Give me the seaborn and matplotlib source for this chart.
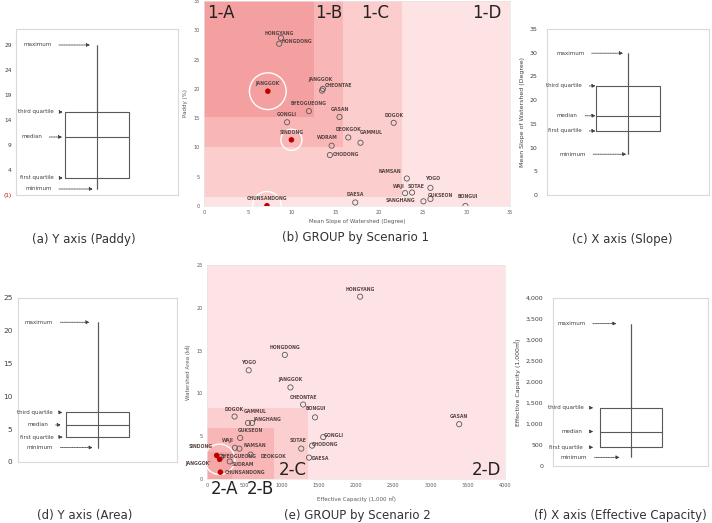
import numpy as np
import pandas as pd
import matplotlib
matplotlib.use("Agg")
import matplotlib.pyplot as plt
import seaborn as sns
from matplotlib.patches import Rectangle

# Box plot summaries: minimum, first quartile, median, third quartile, maximum
box_labels = ["minimum", "first quartile", "median", "third quartile", "maximum"]
paddy_stats = [0.2, 2.4, 10.6, 15.6, 29.0]
slope_stats = [8.6, 13.5, 16.7, 23.0, 29.9]
area_stats = [2.2, 3.8, 5.65, 7.55, 21.3]
capacity_stats = [205, 445, 820, 1385, 3390]

# Scenario 1: mean slope of watershed vs paddy
s1_names = ["HONGYANG", "HONGDONG", "JANGGOK'", "JANGGOK", "CHEONTAE", "BYEOGUEONG",
            "GASAN", "GONGLI", "DOGOK", "SINDONG", "DEOKGOK", "GAMMUL", "WORAM",
            "CHODONG", "NAMSAN", "YOGO", "WAJI", "SOTAE", "GUKSEON", "SANGHANG",
            "BONGUI", "DAESA", "CHUNSANDONG"]
s1_slope = [8.8, 8.6, 7.3, 13.6, 13.5, 12.0, 15.5, 9.5, 21.7, 10.0, 16.5, 17.9, 14.6,
            14.4, 23.2, 25.9, 23.0, 23.8, 25.9, 25.1, 29.9, 17.3, 7.2]
s1_paddy = [28.7, 27.7, 19.6, 20.0, 19.7, 16.2, 15.2, 14.3, 14.2, 11.3, 11.7, 10.8, 10.3,
            8.7, 4.7, 3.1, 2.2, 2.3, 1.2, 0.8, 0.0, 0.6, 0.05]
s1_selected = [False, False, True, False, False, False, False, False, False, True, False,
               False, False, False, False, False, False, False, False, False, False, False, True]

# Scenario 2: effective capacity vs watershed area
s2_names = ["HONGYANG", "HONGDONG", "YOGO", "JANGGOK", "CHEONTAE", "BONGUI", "GASAN",
            "DOGOK", "GAMMUL", "JANGHANG", "GUKSEON", "GONGLI", "CHODONG", "WAJI",
            "NAMSAN", "SOTAE", "DAESA", "BYEOGUEONG", "DEOKGOK", "SUDRAM", "SINDONG",
            "JANGGOK'", "CHUNSANDONG"]
s2_capacity = [2055, 1045, 560, 1120, 1290, 1450, 3385, 370, 550, 605, 445, 1560, 1410,
               375, 435, 1265, 1370, 190, 585, 305, 130, 170, 180]
s2_area = [21.3, 14.5, 12.7, 10.7, 8.7, 7.2, 6.4, 7.3, 6.55, 6.55, 4.8, 4.9, 3.9, 3.65,
           3.55, 3.55, 2.5, 2.6, 2.85, 2.05, 2.75, 2.3, 0.8]
s2_selected = [False] * 20 + [True, True, True]

# Scenario groups (nested regions)
s1_groups = ["1-D", "1-C", "1-B", "1-A"]
s1_group_xmax = [35, 22.7, 15.9, 12.6]
s1_group_ymin = [0, 1.6, 10.0, 15.2]
s2_groups = ["2-D", "2-C", "2-B", "2-A"]
s2_group_xmax = [4000, 1360, 900, 330]
s2_group_ymax = [25, 8.3, 5.9, 3.2]

df1 = pd.DataFrame({"name": s1_names, "x": s1_slope, "y": s1_paddy, "sel": s1_selected})
df2 = pd.DataFrame({"name": s2_names, "x": s2_capacity, "y": s2_area, "sel": s2_selected})

# label offsets in pixels (dx, dy up); default is straight above the point
off1 = {"HONGYANG": (-2, 4), "HONGDONG": (18, 2), "JANGGOK": (-2, 9), "CHEONTAE": (16, 5),
        "GAMMUL": (11, 10), "WORAM": (-4, 8), "CHODONG": (16, 1), "NAMSAN": (-17, 7),
        "YOGO": (2, 9), "WAJI": (-6, 7), "SOTAE": (4, 6), "GUKSEON": (10, 3),
        "SANGHANG": (-23, 1), "BONGUI": (2, 10)}
off2 = {"BONGUI": (1, 9), "GAMMUL": (7, 11), "JANGHANG": (15, 3), "GUKSEON": (10, 7),
        "GONGLI": (11, 2), "CHODONG": (13, 1), "WAJI": (-7, 7), "NAMSAN": (16, 3),
        "SOTAE": (-3, 8), "DAESA": (11, -1), "BYEOGUEONG": (17, 0), "DEOKGOK": (23, -2),
        "SUDRAM": (13, -3), "SINDONG": (-16, 9), "JANGGOK'": (-21, -4), "CHUNSANDONG": (25, 0)}
ring1 = {"JANGGOK'": 700, "SINDONG": 230, "CHUNSANDONG": 420}
ring2 = {"JANGGOK'": 480}

sns.set_style("white")
plt.rcParams["font.family"] = ["DejaVu Sans", "Noto Sans CJK KR"]

W, H = 712, 523
fig = plt.figure(figsize=(W / 100, H / 100), dpi=100)
GRAY = "#595959"


def add_ax(x0, y0, x1, y1):
    return fig.add_axes([x0 / W, 1 - y1 / H, (x1 - x0) / W, (y1 - y0) / H])


def box_panel(ax, stats, ylim, ticks, ticklabels, text_right, arrow_end, ylabel="",
              tick_size=4.5, tick_pad=7):
    sns.boxplot(y=stats, ax=ax, whis=(0, 100), width=0.4, fill=False, color=GRAY,
                linewidth=0.8, showcaps=False)
    ax.vlines(0, stats[0], stats[-1], color=GRAY, lw=0.8)
    ax.set_xlim(-0.5, 0.5)
    ax.set_ylim(*ylim)
    ax.set_yticks(ticks, ticklabels)
    ax.set_xticks([])
    ax.tick_params(axis="y", length=0, labelsize=tick_size, pad=tick_pad, colors="#404040")
    for sp in ax.spines.values():
        sp.set_color("#d9d9d9")
        sp.set_linewidth(0.8)
    ax.set_ylabel(ylabel, fontsize=4.5, color="#404040", labelpad=3)
    for lab, v, tx, xe in zip(box_labels, stats, text_right, arrow_end):
        ax.annotate(lab, xy=(xe, v), xytext=(tx, v), xycoords=("axes fraction", "data"),
                    ha="right", va="center", fontsize=4, color="#404040",
                    arrowprops=dict(arrowstyle="-|>", ls=(0, (1, 1)), lw=0.6, color="#404040",
                                    mutation_scale=5, shrinkA=3, shrinkB=0))


def scatter_panel(ax, df, offsets, rings, ring_df):
    sns.scatterplot(data=df[~df.sel], x="x", y="y", ax=ax, s=14, facecolor="none",
                    edgecolor=GRAY, linewidth=0.6, zorder=4)
    sns.scatterplot(data=df[df.sel], x="x", y="y", ax=ax, s=16, color="#c00000",
                    edgecolor="none", zorder=5)
    rr = ring_df[ring_df.name.isin(list(rings))]
    ax.scatter(rr.x, rr.y, s=[rings[n] for n in rr.name], facecolor="none",
               edgecolor="white", linewidth=1.0, zorder=3, clip_on=False)
    for n, x, y in zip(df.name, df.x, df.y):
        dx, dy = offsets.get(n, (0, 7.5))
        ax.annotate(n, (x, y), xytext=(dx, dy), textcoords="offset pixels", ha="center",
                    va="center", fontsize=3.3, fontweight="bold", color="#5a4545",
                    zorder=6, annotation_clip=False)
    ax.tick_params(length=0, labelsize=3.5, colors=GRAY, pad=3)
    for sp in ax.spines.values():
        sp.set_color("#e6e6e6")
        sp.set_linewidth(0.5)


# (a) Y axis (Paddy)
ax_a = add_ax(16, 29, 178, 195)
ticks_a = np.arange(-1, 30, 5)
labels_a = [f"({abs(t)})" if t < 0 else str(t) for t in ticks_a]
box_panel(ax_a, paddy_stats, (-1, 32.2), ticks_a, labels_a,
          [0.22, 0.23, 0.16, 0.23, 0.22], [0.475, 0.29, 0.285, 0.29, 0.457],
          tick_size=4.2, tick_pad=3)
ax_a.get_yticklabels()[0].set_color("#c00000")

# (c) X axis (Slope)
ax_c = add_ax(547, 29, 709, 195)
ticks_c = np.arange(0, 36, 5)
box_panel(ax_c, slope_stats, (0, 35), ticks_c, [str(t) for t in ticks_c],
          [0.24, 0.215, 0.19, 0.215, 0.23], [0.49, 0.30, 0.30, 0.30, 0.47],
          ylabel="Mean Slope of Watershed (Degree)")

# (d) Y axis (Area)
ax_d = add_ax(18, 298, 177, 462)
ticks_d = np.arange(0, 26, 5)
box_panel(ax_d, area_stats, (0, 25), ticks_d, [str(t) for t in ticks_d],
          [0.22, 0.225, 0.19, 0.22, 0.22], [0.47, 0.28, 0.27, 0.28, 0.45],
          tick_size=5.3, tick_pad=4)

# (f) X axis (Effective Capacity)
ax_f = add_ax(553, 298, 708, 466)
ticks_f = np.arange(0, 4001, 500)
box_panel(ax_f, capacity_stats, (0, 4000), ticks_f, [f"{t:,}" for t in ticks_f],
          [0.22, 0.19, 0.19, 0.20, 0.21], [0.43, 0.26, 0.26, 0.26, 0.41],
          ylabel="Effective Capacity (1,000㎥)")

# (b) GROUP by Scenario 1
ax_b = add_ax(204, 1, 510, 206)
shades1 = ["#fde3e3", "#fbcdcd", "#f8b6b6", "#f4a0a0"]
for g, xm, ym, c in zip(s1_groups, s1_group_xmax, s1_group_ymin, shades1):
    ax_b.add_patch(Rectangle((0, ym), xm, 35 - ym, color=c, lw=0, zorder=0))
scatter_panel(ax_b, df1, off1, ring1, df1)
ax_b.set_xlim(0, 35)
ax_b.set_ylim(0, 35)
ax_b.set_xticks(np.arange(0, 36, 5))
ax_b.set_yticks(np.arange(0, 36, 5))
ax_b.set_xlabel("Mean Slope of Watershed (Degree)", fontsize=4, color=GRAY, labelpad=3)
ax_b.set_ylabel("Paddy (%)", fontsize=4, color=GRAY, labelpad=4)
ax_b.text(0.4, 33, s1_groups[3], fontsize=12, ha="left", va="center", color="#222222")
for g, xr in zip(s1_groups[:3], [34.0, 21.2, 15.8]):
    ax_b.text(xr, 33, g, fontsize=12, ha="right", va="center", color="#222222")

# (e) GROUP by Scenario 2
ax_e = add_ax(207, 265, 505, 479)
shades2 = ["#fde3e5", "#fbcfcf", "#f8b6b6", "#f5a6a6"]
for g, xm, ym, c in zip(s2_groups, s2_group_xmax, s2_group_ymax, shades2):
    ax_e.add_patch(Rectangle((0, 0), xm, ym, color=c, lw=0, zorder=0))
scatter_panel(ax_e, df2, off2, ring2, df2)
ax_e.set_xlim(0, 4000)
ax_e.set_ylim(0, 25)
ax_e.set_xticks(np.arange(0, 4001, 500))
ax_e.set_yticks(np.arange(0, 26, 5))
ax_e.set_xlabel("Effective Capacity (1,000 ㎥)", fontsize=4, color=GRAY, labelpad=6)
ax_e.set_ylabel("Watershed Area (㎢)", fontsize=4, color=GRAY, labelpad=4)
trans = ax_e.get_xaxis_transform()
ax_e.text(230, -0.045, s2_groups[3], transform=trans, fontsize=12, ha="center", va="center",
          color="#222222", zorder=7)
ax_e.text(710, -0.045, s2_groups[2], transform=trans, fontsize=12, ha="center", va="center",
          color="#222222", zorder=7)
ax_e.text(1340, 0.04, s2_groups[1], transform=trans, fontsize=12, ha="right", va="center",
          color="#222222")
ax_e.text(3950, 0.04, s2_groups[0], transform=trans, fontsize=12, ha="right", va="center",
          color="#222222")

# captions
captions = [(84, 240, "(a) Y axis (Paddy)"), (356, 238, "(b) GROUP by Scenario 1"),
            (622, 240, "(c) X axis (Slope)"), (85, 515, "(d) Y axis (Area)"),
            (357, 515, "(e) GROUP by Scenario 2"), (620, 515, "(f) X axis (Effective Capacity)")]
for cx, cy, t in captions:
    fig.text(cx / W, 1 - cy / H, t, ha="center", va="center", fontsize=8.5, color="#333333")

fig.savefig("out.png", dpi=100)
